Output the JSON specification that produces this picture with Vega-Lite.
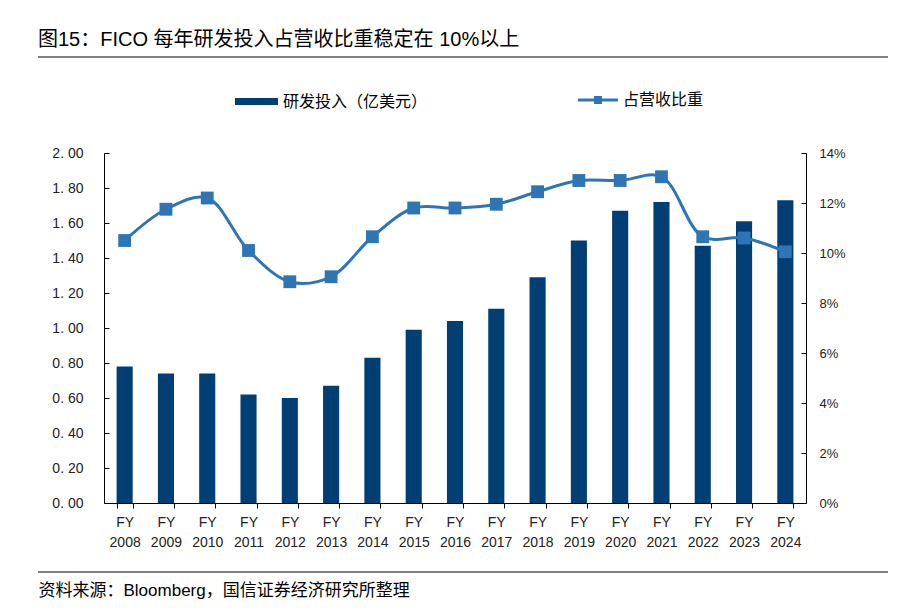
{
  "$schema": "https://vega.github.io/schema/vega-lite/v6.json",
  "width": 702,
  "height": 350,
  "autosize": {"type": "none"},
  "padding": {"left": 104, "top": 153, "right": 116, "bottom": 111},
  "background": "white",
  "config": {
    "font": "Liberation Sans, Noto Sans CJK SC",
    "view": {"stroke": null}
  },
  "title": {
    "text": "图15：FICO 每年研发投入占营收比重稳定在 10%以上",
    "anchor": "start",
    "frame": "group",
    "dx": -66,
    "offset": 6,
    "font": "Liberation Sans, Noto Sans CJK SC",
    "fontSize": 20,
    "fontWeight": "normal",
    "color": "#000000"
  },
  "data": {
    "values": [
      {"year": "2008", "rd": 0.78, "ratio": 10.5},
      {"year": "2009", "rd": 0.74, "ratio": 11.75},
      {"year": "2010", "rd": 0.74, "ratio": 12.2},
      {"year": "2011", "rd": 0.62, "ratio": 10.1},
      {"year": "2012", "rd": 0.60, "ratio": 8.85},
      {"year": "2013", "rd": 0.67, "ratio": 9.05},
      {"year": "2014", "rd": 0.83, "ratio": 10.65},
      {"year": "2015", "rd": 0.99, "ratio": 11.8},
      {"year": "2016", "rd": 1.04, "ratio": 11.8},
      {"year": "2017", "rd": 1.11, "ratio": 11.95},
      {"year": "2018", "rd": 1.29, "ratio": 12.45},
      {"year": "2019", "rd": 1.50, "ratio": 12.9},
      {"year": "2020", "rd": 1.67, "ratio": 12.9},
      {"year": "2021", "rd": 1.72, "ratio": 13.05},
      {"year": "2022", "rd": 1.47, "ratio": 10.65},
      {"year": "2023", "rd": 1.61, "ratio": 10.6},
      {"year": "2024", "rd": 1.73, "ratio": 10.05}
    ]
  },
  "encoding": {
    "x": {
      "field": "year",
      "type": "ordinal",
      "scale": {"paddingInner": 0.61, "paddingOuter": 0.305},
      "axis": {
        "labelExpr": "datum.label ? ['FY', datum.label] : ''",
        "labelAngle": 0,
        "labelLineHeight": 20,
        "labelPadding": 7,
        "labelBaseline": "top",
        "labelFontSize": 14,
        "labelColor": "#222222",
        "tickBand": "extent",
        "tickSize": 5,
        "tickColor": "#000000",
        "domainColor": "#000000",
        "title": "资料来源：Bloomberg，国信证券经济研究所整理",
        "titleX": -66,
        "titleY": 87,
        "titleAlign": "left",
        "titleAnchor": "start",
        "titleBaseline": "middle",
        "titleFont": "Liberation Sans, Noto Sans CJK SC",
        "titleFontSize": 17,
        "titleFontWeight": "normal",
        "titleColor": "#000000"
      }
    }
  },
  "layer": [
    {
      "mark": {"type": "bar"},
      "encoding": {
        "y": {
          "field": "rd",
          "type": "quantitative",
          "scale": {"domain": [0, 2], "nice": false},
          "axis": {
            "values": [0, 0.2, 0.4, 0.6, 0.8, 1.0, 1.2, 1.4, 1.6, 1.8, 2.0],
            "labelExpr": "replace(format(datum.value, '.2f'), '.', '. ')",
            "grid": false,
            "tickSize": -5,
            "labelPadding": 26,
            "labelFontSize": 14,
            "labelColor": "#222222",
            "tickColor": "#000000",
            "domainColor": "#000000",
            "title": null
          }
        },
        "color": {
          "datum": "研发投入（亿美元）",
          "scale": {"range": ["#003E74"]},
          "legend": {
            "orient": "none",
            "legendX": 131,
            "legendY": -73,
            "title": null,
            "symbolType": "M-1,-0.163H1V0.163H-1Z",
            "symbolSize": 1849,
            "symbolStrokeWidth": 0,
            "labelFont": "Noto Sans CJK SC",
            "labelFontSize": 16,
            "labelColor": "#000000",
            "labelOffset": 5
          }
        }
      }
    },
    {
      "mark": {"type": "line", "interpolate": "catmull-rom", "strokeWidth": 3},
      "encoding": {
        "y": {
          "field": "ratio",
          "type": "quantitative",
          "scale": {"domain": [0, 14], "nice": false},
          "axis": {
            "orient": "right",
            "values": [0, 2, 4, 6, 8, 10, 12, 14],
            "labelExpr": "datum.value + '%'",
            "grid": false,
            "tickSize": -5,
            "labelPadding": 18,
            "labelFontSize": 13,
            "labelColor": "#222222",
            "tickColor": "#000000",
            "domainColor": "#000000",
            "title": null
          }
        },
        "stroke": {
          "datum": "占营收比重",
          "scale": {"range": ["#2E75B6"]},
          "legend": {
            "orient": "none",
            "legendX": 474,
            "legendY": -73,
            "title": null,
            "symbolType": "M-1,-0.075H1V0.075H-1Z M-0.2,-0.2H0.2V0.2H-0.2Z",
            "symbolSize": 1600,
            "labelFont": "Noto Sans CJK SC",
            "labelFontSize": 16,
            "labelColor": "#000000",
            "labelOffset": 5,
            "encode": {
              "symbols": {
                "update": {
                  "fill": {"value": "#2E75B6"},
                  "strokeWidth": {"value": 0}
                }
              }
            }
          }
        }
      }
    },
    {
      "mark": {"type": "point", "shape": "square", "filled": true, "size": 165, "color": "#2E75B6", "opacity": 1},
      "encoding": {
        "y": {"field": "ratio", "type": "quantitative", "scale": {"domain": [0, 14], "nice": false}, "axis": null}
      }
    },
    {
      "data": {"values": [{"pos": "top"}]},
      "mark": {"type": "rule", "stroke": "#808080", "strokeWidth": 2},
      "encoding": {"x": {"value": -66}, "x2": {"value": 784}, "y": {"value": -96}}
    },
    {
      "data": {"values": [{"pos": "bottom"}]},
      "mark": {"type": "rule", "stroke": "#808080", "strokeWidth": 2},
      "encoding": {"x": {"value": -66}, "x2": {"value": 784}, "y": {"value": 419}}
    }
  ],
  "resolve": {"scale": {"y": "independent"}}
}
